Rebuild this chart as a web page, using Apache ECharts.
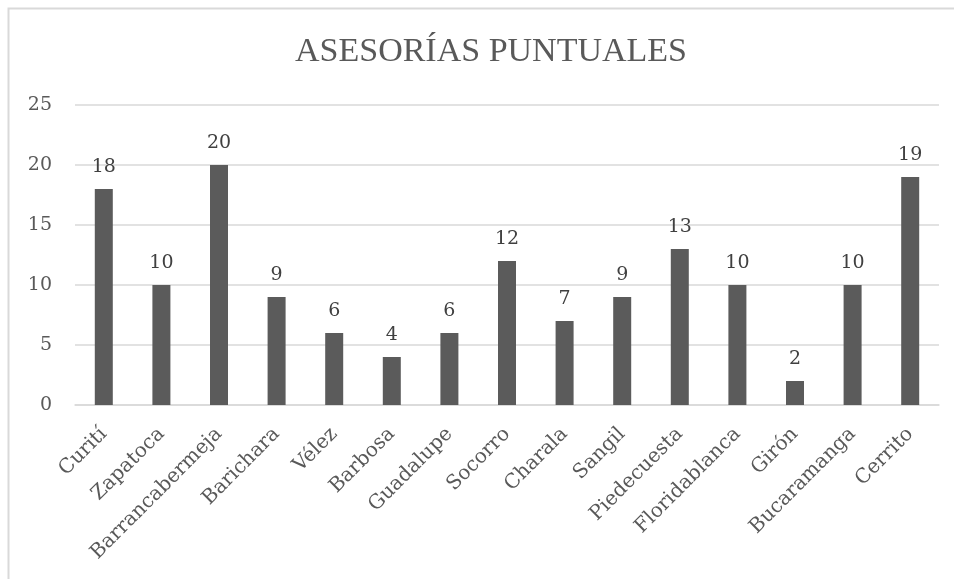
<!DOCTYPE html>
<html>
<head>
<meta charset="utf-8">
<script src="https://cdn.jsdelivr.net/npm/echarts@6/dist/echarts.min.js"></script>
<style>
  html, body { margin: 0; padding: 0; background: #fff; }
  #chart { width: 954px; height: 579px; }
</style>
</head>
<body>
<div id="chart"></div>
<script>
const municipios = ['Curití', 'Zapatoca', 'Barrancabermeja', 'Barichara', 'Vélez', 'Barbosa', 'Guadalupe',
  'Socorro', 'Charala', 'Sangil', 'Piedecuesta', 'Floridablanca', 'Girón', 'Bucaramanga', 'Cerrito']
const asesorias = [18, 10, 20, 9, 6, 4, 6, 12, 7, 9, 13, 10, 2, 10, 19]

const fontName = 'DejaVu Serif'
const textColor = '#595959'

const myChart = echarts.init(document.getElementById('chart'))
myChart.setOption({
  animation: false,
  title: {
    text: 'ASESORÍAS PUNTUALES',
    left: 486,
    textAlign: 'center',
    top: 30,
    textStyle: { fontFamily: 'Liberation Serif', fontSize: 34, fontWeight: 'normal', color: textColor }
  },
  graphic: [{
    type: 'rect',
    shape: { x: 8.5, y: 8.5, width: 1000, height: 700 },
    style: { fill: null, stroke: '#d9d9d9', lineWidth: 2 },
    silent: true
  }],
  grid: { left: 75, right: 15, top: 105, bottom: 174 },
  xAxis: {
    type: 'category',
    data: municipios,
    axisLine: { lineStyle: { color: '#d9d9d9', width: 1.5 } },
    axisTick: { show: false },
    axisLabel: {
      rotate: 45,
      interval: 0,
      margin: 26,
      fontFamily: fontName,
      fontSize: 20,
      color: textColor
    }
  },
  yAxis: {
    type: 'value',
    min: 0,
    max: 25,
    interval: 5,
    axisLine: { show: false },
    axisTick: { show: false },
    splitLine: { lineStyle: { color: '#d9d9d9', width: 1.5 } },
    axisLabel: { margin: 23, fontFamily: fontName, fontSize: 19, color: textColor }
  },
  series: [{
    type: 'bar',
    data: asesorias,
    barWidth: 18,
    itemStyle: { color: '#5b5b5b' },
    label: {
      show: true,
      position: 'top',
      distance: 12,
      fontFamily: fontName,
      fontSize: 19,
      color: '#404040'
    }
  }]
})
</script>
</body>
</html>
